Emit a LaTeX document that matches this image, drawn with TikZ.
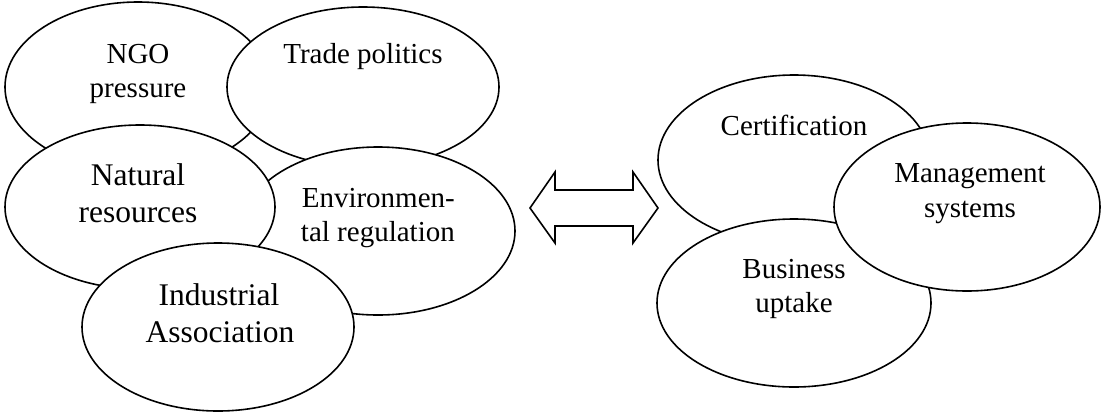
\documentclass[tikz,border=0pt]{standalone}
\usepackage{fontspec}
\setmainfont{Liberation Serif}
\usetikzlibrary{shapes.geometric}
\tikzset{
  blob/.style={ellipse, draw=black, fill=white, line width=1.6pt, inner sep=0pt},
  lbl/.style={anchor=base, inner sep=0pt, font=\fontsize{29}{33}\selectfont},
  lblbig/.style={anchor=base, inner sep=0pt, font=\fontsize{31.5}{36}\selectfont},
  arrowshape/.style={draw=black, fill=white, line width=1.6pt, line join=miter}
}
\begin{document}
\begin{tikzpicture}[x=1pt,y=-1pt]
\useasboundingbox (0,0) rectangle (1108,416);
% left group
\node[blob, minimum width=266pt, minimum height=170pt] (ngo) at (138,87) {};
\node[blob, minimum width=272pt, minimum height=160pt] (trade) at (363,87) {};
\node[blob, minimum width=274pt, minimum height=168pt] (env) at (378,231) {};
\node[blob, minimum width=270pt, minimum height=164pt] (nat) at (140,207) {};
\node[blob, minimum width=272pt, minimum height=168pt] (ind) at (218,327) {};
\node[lbl] (ngo1) at (138,63) {NGO};
\node[lbl] (ngo2) at (138,97) {pressure};
\node[lbl] (trade1) at (363,63) {Trade politics};
\node[lblbig] (nat1) at (138,185) {Natural};
\node[lblbig] (nat2) at (138,222) {resources};
\node[lbl, anchor=base east] (env1) at (455,207) {Environmen-};
\node[lbl, anchor=base east] (env2) at (455,241) {tal regulation};
\node[lblbig] (ind1) at (219,305) {Industrial};
\node[lblbig] (ind2) at (220,342) {Association};
% double arrow
\draw[arrowshape] (530,208) -- (555,172) -- (555,190) -- (633,190) -- (633,172)
  -- (658,208) -- (633,243) -- (633,226) -- (555,226) -- (555,243) -- cycle;
% right group
\node[blob, minimum width=272pt, minimum height=170pt] (cert) at (794,160) {};
\node[blob, minimum width=274pt, minimum height=168pt] (bus) at (794,303) {};
\node[blob, minimum width=266pt, minimum height=168pt] (mgmt) at (967,207) {};
\node[lbl] (cert1) at (794,135) {Certification};
\node[lbl] (mgmt1) at (970,182) {Management};
\node[lbl] (mgmt2) at (970,217) {systems};
\node[lbl] (bus1) at (794,278) {Business};
\node[lbl] (bus2) at (794,312) {uptake};
\end{tikzpicture}
\end{document}
